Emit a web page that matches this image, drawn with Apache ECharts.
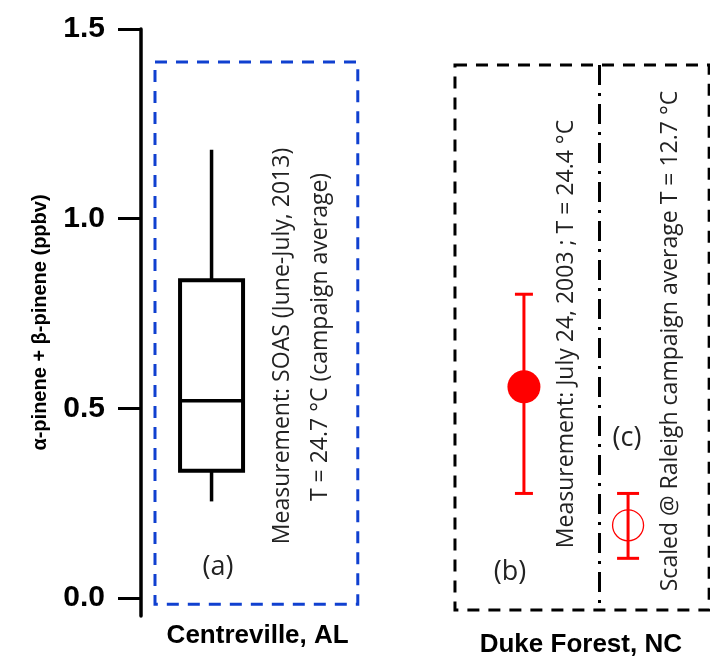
<!DOCTYPE html>
<html>
<head>
<meta charset="utf-8">
<script src="https://cdn.jsdelivr.net/npm/echarts@6/dist/echarts.min.js"></script>
<style>
  html, body { margin: 0; padding: 0; background: #fff; }
  #chart { width: 710px; height: 658px; }
</style>
</head>
<body>
<div id="chart"></div>
<script>
// Sites along the horizontal axis and where their labels sit
const sites = ['Centreville, AL', 'Duke Forest, NC'];
const sitePos = [2.05, 7.73];

// Y axis tick values (ppbv)
const yTicks = [0, 0.5, 1.0, 1.5];

// SOAS campaign distribution at Centreville: min, Q1, median, Q3, max
const soasBox = [0.255, 0.336, 0.52, 0.838, 1.182];
const soasPos = 1.24;

// Duke Forest: measured value (b) and value scaled to Raleigh temperature (c)
const dukePos = [6.73, 8.56];
const dukeMean = [0.557, 0.192];
const dukeLow = [0.276, 0.105];
const dukeHigh = [0.801, 0.276];
const capWidths = [18, 22];

const chart = echarts.init(document.getElementById('chart'), null, { renderer: 'canvas' });

const textColor = '#222';
const noteFont = '"Open Sans", "Noto Sans", sans-serif';
const boldFont = '"Liberation Sans", Arial, sans-serif';

function note(text, x, y, size, rotate) {
  return {
    type: 'text',
    x: x, y: y,
    rotation: rotate ? Math.PI / 2 : 0,
    silent: true,
    style: {
      text: text,
      fill: textColor,
      font: size + 'px ' + noteFont,
      align: 'center', verticalAlign: 'middle',
      textAlign: 'center', textVerticalAlign: 'middle'
    }
  };
}

const option = {
  animation: false,
  backgroundColor: '#fff',
  grid: { left: 141, right: 0, top: 29, bottom: 40, containLabel: false },
  xAxis: {
    type: 'value',
    min: 0, max: 10,
    axisLine: { show: false },
    axisTick: { show: false },
    splitLine: { show: false },
    axisLabel: {
      customValues: sitePos,
      margin: 7,
      formatter: function (v) {
        const i = sitePos.indexOf(v);
        return i === 0 ? '{a|' + sites[0] + '}' : '{b|' + sites[1] + '}';
      },
      rich: {
        a: { fontFamily: boldFont, fontWeight: 'bold', fontSize: 26, color: '#000' },
        b: { fontFamily: boldFont, fontWeight: 'bold', fontSize: 26, color: '#000', padding: [9, 0, 0, 0] }
      }
    }
  },
  yAxis: {
    type: 'value',
    min: -0.047, max: 1.5,
    name: 'α-pinene + β-pinene (ppbv)',
    nameLocation: 'middle',
    nameRotate: 90,
    nameGap: 91,
    nameTextStyle: {
      fontFamily: boldFont,
      fontWeight: 'bold', fontSize: 20, color: '#000'
    },
    axisLine: { show: true, lineStyle: { color: '#000', width: 3.5 } },
    axisTick: { show: true, customValues: yTicks, length: 23, lineStyle: { color: '#000', width: 3 } },
    axisLabel: {
      customValues: yTicks,
      margin: 36,
      formatter: function (v) { return Number(v).toFixed(1); },
      fontFamily: boldFont,
      fontWeight: 'bold', fontSize: 30, color: '#000'
    },
    splitLine: { show: false }
  },
  graphic: [
    note('Measurement: SOAS (June-July, 2013)', 282, 346, 23, true),
    note('T = 24.7 °C (campaign average)', 320, 337, 23, true),
    note('(a)', 218, 567, 27, false),
    note('Measurement: July 24, 2003 ; T = 24.4 °C', 566, 334, 23, true),
    note('(b)', 510, 572, 27, false),
    note('(c)', 627, 438, 27, false),
    note('Scaled @ Raleigh campaign average T = 12.7 °C', 670, 341, 23, true)
  ],
  series: [
    {
      // Box-and-whisker for the SOAS campaign, plus the dashed panel frames
      type: 'custom',
      name: 'SOAS',
      data: [[soasPos].concat(soasBox)],
      renderItem: function (params, api) {
        const x = api.value(0);
        const pMin = api.coord([x, api.value(1)]);
        const pQ1 = api.coord([x, api.value(2)]);
        const pMed = api.coord([x, api.value(3)]);
        const pQ3 = api.coord([x, api.value(4)]);
        const pMax = api.coord([x, api.value(5)]);
        const w = 63;
        const st = { stroke: '#000', lineWidth: 4, fill: null };
        return {
          type: 'group',
          children: [
            { type: 'line', shape: { x1: pMax[0], y1: pMax[1], x2: pQ3[0], y2: pQ3[1] }, style: { stroke: '#000', lineWidth: 3.5 } },
            { type: 'line', shape: { x1: pMin[0], y1: pMin[1], x2: pQ1[0], y2: pQ1[1] }, style: { stroke: '#000', lineWidth: 3.5 } },
            { type: 'rect', shape: { x: pQ3[0] - w / 2, y: pQ3[1], width: w, height: pQ1[1] - pQ3[1] }, style: st },
            { type: 'line', shape: { x1: pMed[0] - w / 2, y1: pMed[1], x2: pMed[0] + w / 2, y2: pMed[1] }, style: { stroke: '#000', lineWidth: 3.5 } }
          ]
        };
      },
      markArea: {
        silent: true,
        label: { show: false },
        data: [
          [
            { xAxis: 0.246, yAxis: 1.413, itemStyle: { color: 'rgba(0,0,0,0)', borderColor: '#1040d0', borderWidth: 3, borderType: [12, 9] } },
            { xAxis: 3.81, yAxis: -0.016 }
          ],
          [
            { xAxis: 5.518, yAxis: 1.405, itemStyle: { color: 'rgba(0,0,0,0)', borderColor: '#000', borderWidth: 3, borderType: [12, 9] } },
            { xAxis: 9.985, yAxis: -0.0315 }
          ]
        ]
      },
      markLine: {
        silent: true,
        symbol: 'none',
        label: { show: false },
        lineStyle: { color: '#000', width: 3, type: [20, 8, 3, 8] },
        data: [
          [{ coord: [8.049, 1.405] }, { coord: [8.049, -0.0315] }]
        ]
      }
    },
    {
      // Error bars for the Duke Forest values
      type: 'custom',
      name: 'Duke Forest range',
      data: dukePos.map(function (x, i) { return [x, dukeLow[i], dukeHigh[i]]; }),
      renderItem: function (params, api) {
        const x = api.value(0);
        const lo = api.coord([x, api.value(1)]);
        const hi = api.coord([x, api.value(2)]);
        const c = capWidths[params.dataIndex] / 2;
        const st = { stroke: '#ff0000', lineWidth: 3 };
        return {
          type: 'group',
          children: [
            { type: 'line', shape: { x1: lo[0], y1: lo[1], x2: hi[0], y2: hi[1] }, style: st },
            { type: 'line', shape: { x1: lo[0] - c, y1: lo[1], x2: lo[0] + c, y2: lo[1] }, style: st },
            { type: 'line', shape: { x1: hi[0] - c, y1: hi[1], x2: hi[0] + c, y2: hi[1] }, style: st }
          ]
        };
      }
    },
    {
      type: 'scatter',
      name: 'Measured',
      symbol: 'circle',
      symbolSize: 33,
      itemStyle: { color: '#ff0000', opacity: 1 },
      data: [[dukePos[0], dukeMean[0]]]
    },
    {
      type: 'scatter',
      name: 'Scaled',
      symbol: 'circle',
      symbolSize: 31,
      itemStyle: { color: 'rgba(0,0,0,0)', borderColor: '#ff0000', borderWidth: 1.3, opacity: 1 },
      data: [[dukePos[1], dukeMean[1]]]
    }
  ]
};

chart.setOption(option);
</script>
</body>
</html>
